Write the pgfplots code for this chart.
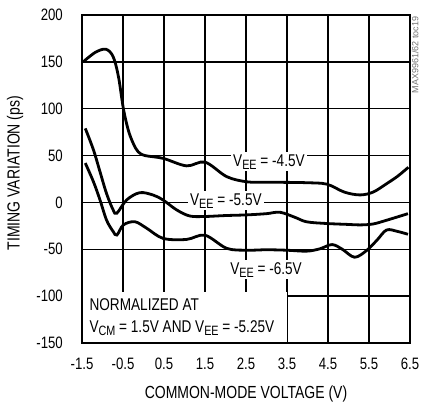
\documentclass[border=0pt]{standalone}
\usepackage{fontspec}
\setmainfont{Liberation Sans}[FakeStretch=0.8]
\newfontfamily\plainsans{Liberation Sans}
\usepackage{pgfplots}
\pgfplotsset{compat=1.18}
\newcommand\sub[1]{\raisebox{-3pt}{\fontsize{13.5}{13.5}\selectfont #1}}
\begin{document}
\fontsize{17}{20}\selectfont
\begin{tikzpicture}
\useasboundingbox (0,0) rectangle (421pt,404pt);
\begin{axis}[
  at={(82pt,61pt)}, anchor=south west,
  scale only axis, width=328pt, height=328pt,
  xmin=-1.5, xmax=6.5, ymin=-150, ymax=200,
  xtick={-1.5,-0.5,0.5,1.5,2.5,3.5,4.5,5.5,6.5},
  xticklabels={-1.5,-0.5,0.5,1.5,2.5,3.5,4.5,5.5,6.5},
  ytick={-150,-100,-50,0,50,100,150,200},
  yticklabels={-150,-100,-50,0,50,100,150,200},
  xmajorgrids=true, ymajorgrids=true,
  major grid style={line width=1.3pt, black},
  axis line style={line width=2.8pt},
  major tick length=0pt,
  clip=false,
  tick label style={font=\fontsize{16.5}{19}\selectfont},
  xticklabel style={anchor=north, inner sep=0pt, yshift=-15pt},
  yticklabel style={anchor=east, inner sep=0pt, xshift=-19pt},
]
% white box for normalization note
\fill[white] (axis cs:-1.5,-150) rectangle (axis cs:3.5,-95.6);
\node[anchor=base west, inner sep=0pt] at (axis cs:-1.32,-115.6) {NORMALIZED AT};
\node[anchor=base west, inner sep=0pt] at (axis cs:-1.32,-139) {V\sub{CM} = 1.5V AND V\sub{EE} = -5.25V};
% curve labels
\node[anchor=base, fill=white, inner sep=2pt] at (axis cs:3.06,38.8) {V\sub{EE} = -4.5V};
\node[anchor=base, fill=white, inner sep=2pt] at (axis cs:2.01,-2.8) {V\sub{EE} = -5.5V};
\node[anchor=base, fill=white, inner sep=2pt] at (axis cs:2.99,-76.4) {V\sub{EE} = -6.5V};
% VEE = -4.5V
\addplot[smooth, tension=0.55, line width=2.8pt, black] coordinates {
(-1.47,150) (-1.18,160) (-0.92,163.5) (-0.74,155.5) (-0.61,134) (-0.49,100)
(-0.37,77) (-0.25,63) (-0.13,54) (0.04,50) (0.48,47) (1.05,39) (1.5,43)
(2.03,27.5) (2.52,22) (3.0,21.5) (3.49,21.4) (4.0,21) (4.47,19.5) (4.9,11)
(5.28,8) (5.6,11) (5.93,20) (6.2,28) (6.46,37.5)
};
% VEE = -5.5V
\addplot[smooth, tension=0.55, line width=2.8pt, black] coordinates {
(-1.42,79) (-1.22,56) (-1.06,32.6) (-0.9,9.3) (-0.74,-8) (-0.65,-11.5)
(-0.41,2.7) (-0.09,10.4) (0.24,7.8) (0.48,2.5) (0.81,-8) (1.13,-14.5)
(1.5,-15) (2.0,-14) (2.52,-13.3) (3.0,-12) (3.33,-10.5) (3.7,-16)
(3.98,-20.7) (4.47,-22.5) (5.0,-23.5) (5.28,-24) (5.6,-23) (5.93,-19) (6.45,-12)
};
% VEE = -6.5V
\addplot[smooth, tension=0.55, line width=2.8pt, black] coordinates {
(-1.42,42) (-1.22,22) (-1.06,2.5) (-0.9,-19) (-0.74,-31) (-0.65,-34.8)
(-0.49,-24) (-0.21,-20.6) (0.08,-27.6) (0.48,-38.4) (1.05,-39.5) (1.5,-35)
(2.03,-49) (2.52,-51) (3.0,-50.5) (3.49,-51) (3.98,-52) (4.3,-49.5)
(4.6,-45) (4.85,-50) (5.15,-58.5) (5.45,-51) (5.7,-40) (5.93,-29.4)
(6.2,-31) (6.45,-34)
};
% frame on top
\draw[line width=2.8pt] (rel axis cs:0,0) rectangle (rel axis cs:1,1);
% axis titles
\node[anchor=base, font=\fontsize{17.5}{20}\selectfont] at (axis description cs:0.5,-0.1707) {COMMON-MODE VOLTAGE (V)};
\node[rotate=90, anchor=center, font=\fontsize{17.5}{20}\selectfont] at (axis description cs:-0.204,0.518) {TIMING VARIATION (ps)};
\node[rotate=90, anchor=center, text=black!55, font=\plainsans\fontsize{9}{9}\selectfont] at (axis description cs:1.016,0.878) {MAX9961/62 toc19};
\end{axis}
\end{tikzpicture}
\end{document}
